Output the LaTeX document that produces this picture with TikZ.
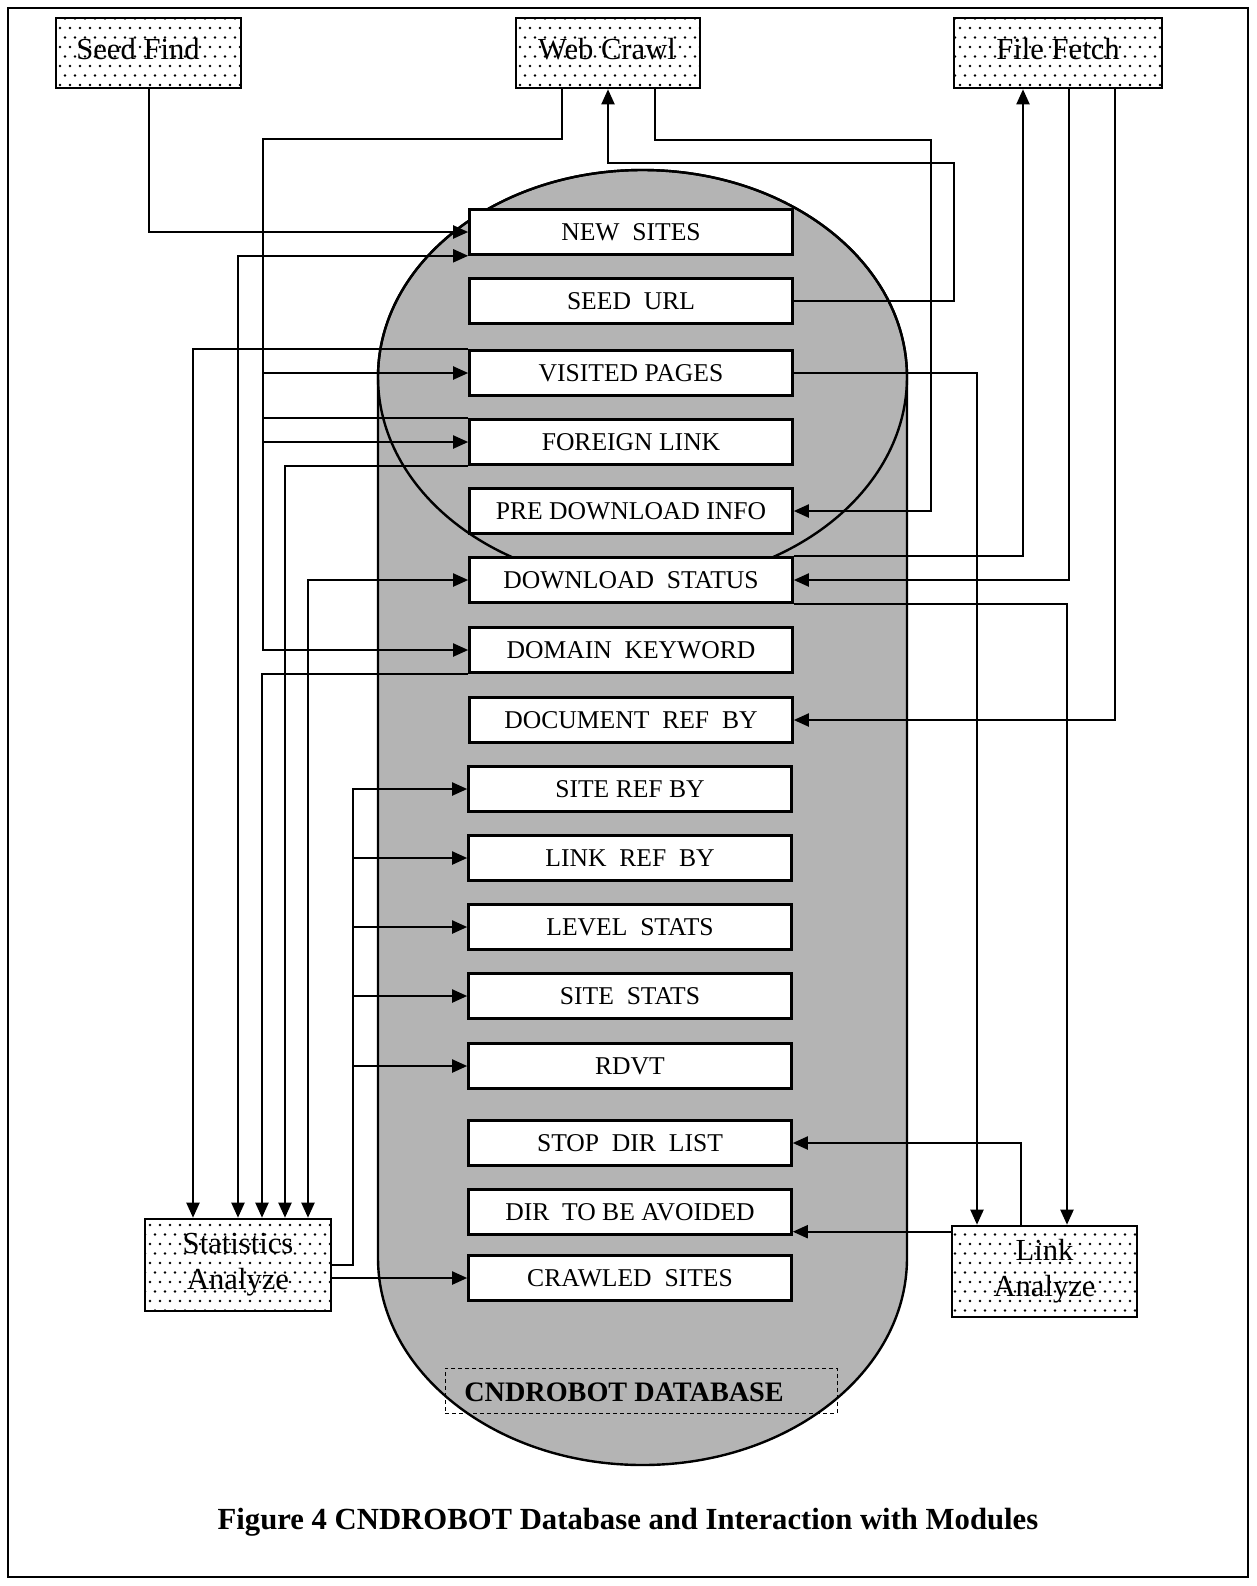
\documentclass[tikz,border=0pt]{standalone}
\usepackage{fontspec}
\setmainfont{Liberation Serif}
\usetikzlibrary{arrows.meta,patterns,calc}
\pgfdeclarepatternformonly{sparsedots}{\pgfqpoint{-1pt}{-1pt}}{\pgfqpoint{3.5pt}{5.75pt}}{\pgfqpoint{5pt}{9.5pt}}{%
  \pgfpathcircle{\pgfqpoint{0pt}{0pt}}{.65pt}%
  \pgfpathcircle{\pgfqpoint{2.5pt}{4.75pt}}{.65pt}%
  \pgfusepath{fill}}
\definecolor{dbgray}{RGB}{180,180,180}
\begin{document}
\begin{tikzpicture}[x=0.5pt,y=-0.5pt,
  modbox/.style={draw, line width=1.3pt, pattern=sparsedots, inner sep=0pt},
  modtxt/.style={font=\fontsize{15.3}{18}\selectfont, inner sep=0pt},
  tbl/.style={draw, fill=white, line width=1.3pt, minimum width=161.5pt, minimum height=22.5pt, inner sep=0pt, font=\fontsize{12.8}{15}\selectfont},
  conn/.style={line width=1pt},
  arr/.style={conn, -{Triangle[length=7.5pt,width=6.5pt]}},
  darr/.style={conn, {Triangle[length=7.5pt,width=6.5pt]}-{Triangle[length=7.5pt,width=6.5pt]}}]
\useasboundingbox (0,0) rectangle (1257,1586);
\draw[line width=1pt] (8,8) rectangle (1248,1577);

% database capsule
\path[fill=dbgray, draw, line width=1.2pt] (378,377) arc[start angle=180, end angle=360, x radius=264.5, y radius=207] -- (907,1258) arc[start angle=0, end angle=180, x radius=264.5, y radius=207] -- cycle;
\draw[line width=1.2pt] (642.5,377) ellipse[x radius=264.5, y radius=207];

% modules
\node[modbox, minimum width=92.5pt, minimum height=35pt] (seed) at (148.5,53) {};
\node[modtxt, anchor=base] (seedtxt) at (138,59) {Seed Find};
\node[modbox, minimum width=92pt, minimum height=35pt] (web) at (608,53) {};
\node[modtxt, anchor=base] (webtxt) at (607,59) {Web Crawl};
\node[modbox, minimum width=104pt, minimum height=35pt] (fetch) at (1058,53) {};
\node[modtxt, anchor=base] (fetchtxt) at (1058,59) {File Fetch};
\node[modbox, modtxt, minimum width=93pt, minimum height=46pt, align=center] (stat) at (238,1265) {Statistics\\Analyze};
\node[modbox, modtxt, minimum width=92.5pt, minimum height=45.5pt, align=center] (link) at (1044.5,1271.5) {Link\\Analyze};

% tables
\node[tbl] (NS) at (631,232) {NEW\ \ SITES};
\node[tbl] (SU) at (631,301) {SEED\ \ URL};
\node[tbl] (VP) at (631,373) {VISITED PAGES};
\node[tbl] (FL) at (631,442) {FOREIGN LINK};
\node[tbl] (PD) at (631,511) {PRE DOWNLOAD INFO};
\node[tbl] (DS) at (631,580) {DOWNLOAD\ \ STATUS};
\node[tbl] (DK) at (631,650) {DOMAIN\ \ KEYWORD};
\node[tbl] (DR) at (631,720) {DOCUMENT\ \ REF\ \ BY};
\node[tbl] (SR) at (630,789) {SITE REF BY};
\node[tbl] (LR) at (630,858) {LINK\ \ REF\ \ BY};
\node[tbl] (LS) at (630,927) {LEVEL\ \ STATS};
\node[tbl] (SS) at (630,996) {SITE\ \ STATS};
\node[tbl] (RD) at (630,1066) {RDVT};
\node[tbl] (ST) at (630,1143) {STOP\ \ DIR\ \ LIST};
\node[tbl] (DA) at (630,1212) {DIR\ \ TO BE AVOIDED};
\node[tbl] (CS) at (630,1278) {CRAWLED\ \ SITES};

% database label
\node[draw, line width=0.5pt, dash pattern=on 2pt off 1.5pt, minimum width=196pt, minimum height=22.5pt] (dbbox) at (641,1390.5) {};
\node[font=\bfseries\fontsize{14.1}{16}\selectfont, inner sep=0pt] (dbtext) at (624,1392) {CNDROBOT DATABASE};

% caption
\node[font=\bfseries\fontsize{15.35}{18}\selectfont] (caption) at (628,1522) {Figure 4 CNDROBOT Database and Interaction with Modules};

% coordinates for bends
\coordinate (wcl) at (263,139);
\coordinate (wr) at (931,140);
\coordinate (su1) at (954,163);
\coordinate (sb) at (353,1000);

% Seed Find
\draw[arr] (seed.south) |- (NS.west);
% Web Crawl left leg
\draw[arr] ([xshift=-23pt]web.south) |- (wcl) |- (DK.west);
\draw[arr] (wcl |- VP.west) -- (VP.west);
\draw[arr] (wcl |- FL.west) -- (FL.west);
\draw[conn] (wcl |- FL.north west) -- (FL.north west);
% Web Crawl right leg
\draw[arr] ([xshift=23.5pt]web.south) |- (wr) |- (PD.east);
% Seed URL to Web Crawl
\draw[arr] (SU.east) -| (su1) -| (web.south);
% Statistics links
\draw[darr] (NS.south west) -| (stat.north);
\draw[darr] (DS.west) -| ([xshift=35pt]stat.north);
\draw[arr] (VP.north west) -| ([xshift=-22.5pt]stat.north);
\draw[arr] (FL.south west) -| ([xshift=23.5pt]stat.north);
\draw[arr] (DK.south west) -| ([xshift=12pt]stat.north);
\draw[arr] (stat.east) -| (sb |- SR.west) -- (SR.west);
\draw[arr] (sb |- LR.west) -- (LR.west);
\draw[arr] (sb |- LS.west) -- (LS.west);
\draw[arr] (sb |- SS.west) -- (SS.west);
\draw[arr] (sb |- RD.west) -- (RD.west);
\draw[arr] (stat.east |- CS.west) -- (CS.west);
% File Fetch
\draw[arr] (DS.north east) -| ([xshift=-17.5pt]fetch.south);
\draw[arr] ([xshift=5.5pt]fetch.south) |- (DS.east);
\draw[arr] ([xshift=28.5pt]fetch.south) |- (DR.east);
% Link Analyze
\draw[arr] (VP.east) -| ([xshift=-33.75pt]link.north);
\draw[arr] (DS.south east) -| ([xshift=11.25pt]link.north);
\draw[arr] ([xshift=-11.75pt]link.north) |- (ST.east);
\path ([yshift=-3.5pt]link.north west) coordinate (la1);
\draw[arr] (la1) -- (la1 -| DA.east);
\end{tikzpicture}
\end{document}
